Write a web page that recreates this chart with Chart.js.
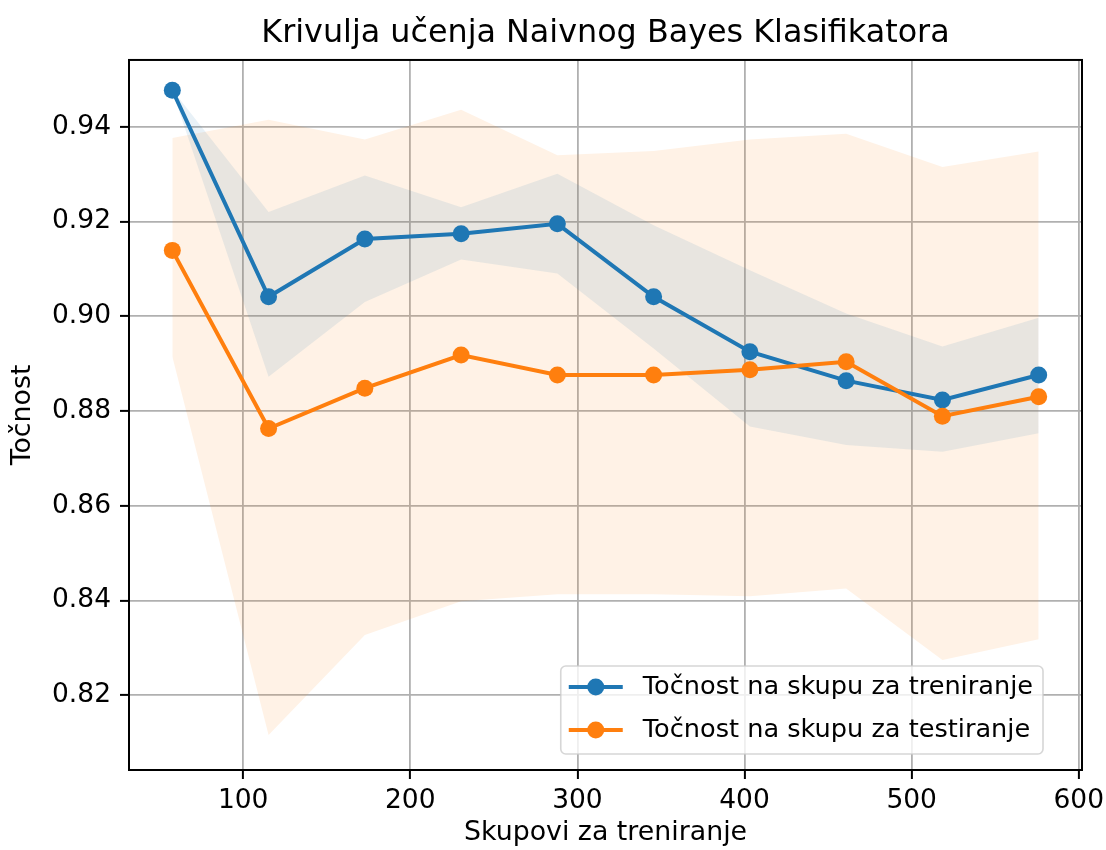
<!DOCTYPE html>
<html>
<head>
<meta charset="utf-8">
<script src="https://cdn.jsdelivr.net/npm/chart.js@4.4.1/dist/chart.umd.min.js"></script>
<style>
  body { margin: 0; background: #fff; }
  #wrap { width: 1106px; height: 850px; }
</style>
</head>
<body>
<div id="wrap"><canvas id="myChart" width="1106" height="850"></canvas></div>
<script>
// data
var trainSizes = [57.6, 115.2, 172.8, 230.4, 288, 345.6, 403.2, 460.8, 518.4, 576];
var trainMean = [0.9477, 0.9041, 0.9163, 0.9174, 0.9195, 0.9041, 0.8925, 0.8864, 0.8823, 0.8876];
var trainUpper = [0.9478, 0.9220, 0.9297, 0.9230, 0.9301, 0.9192, 0.9097, 0.9006, 0.8936, 0.8997];
var trainLower = [0.9476, 0.8872, 0.9030, 0.9120, 0.9090, 0.8932, 0.8767, 0.8728, 0.8714, 0.8753];
var testMean = [0.9139, 0.8763, 0.8848, 0.8918, 0.8876, 0.8876, 0.8887, 0.8904, 0.8789, 0.8830];
var testUpper = [0.9376, 0.9415, 0.9373, 0.9436, 0.9340, 0.9349, 0.9373, 0.9385, 0.9315, 0.9348];
var testLower = [0.8915, 0.8116, 0.8327, 0.8398, 0.8413, 0.8413, 0.8409, 0.8425, 0.8274, 0.8318];
var seriesNames = ['Točnost na skupu za treniranje', 'Točnost na skupu za testiranje'];
var xTicks = [100, 200, 300, 400, 500, 600];
var yTicks = [0.82, 0.84, 0.86, 0.88, 0.90, 0.92, 0.94];

var blue = '#1f77b4';
var orange = '#ff7f0e';
var font = "'DejaVu Sans', sans-serif";

function pts(ys) {
  return trainSizes.map(function (x, i) { return { x: x, y: ys[i] }; });
}

function band(ys, fill, color) {
  return {
    data: pts(ys),
    fill: fill,
    backgroundColor: color,
    borderWidth: 0,
    borderColor: 'rgba(0,0,0,0)',
    pointRadius: 0,
    pointHoverRadius: 0,
    order: 5
  };
}

function meanLine(label, ys, color, order) {
  return {
    label: label,
    data: pts(ys),
    borderColor: color,
    backgroundColor: color,
    borderWidth: 4,
    pointRadius: 8.5,
    pointHoverRadius: 8.5,
    pointBorderWidth: 0,
    pointBackgroundColor: color,
    fill: false,
    order: order
  };
}

// frame around the plot + legend in the lower right corner
var framePlugin = {
  id: 'frame',
  afterDraw: function (chart) {
    var c = chart.ctx, a = chart.chartArea;
    c.save();
    c.strokeStyle = '#000';
    c.lineWidth = 2;
    c.strokeRect(a.left, a.top, a.right - a.left, a.bottom - a.top);

    c.font = '25.6px ' + font;
    var textW = Math.max(c.measureText(seriesNames[0]).width, c.measureText(seriesNames[1]).width);
    var w = 8 + 54 + 20 + textW + 10;
    var h = 88;
    var x0 = a.right - 39 - w;
    var y0 = a.bottom - 16 - h;
    c.beginPath();
    c.roundRect(x0, y0, w, h, 5);
    c.fillStyle = 'rgba(255,255,255,0.8)';
    c.fill();
    c.strokeStyle = 'rgba(204,204,204,0.8)';
    c.lineWidth = 1.6;
    c.stroke();

    var colors = [blue, orange];
    for (var i = 0; i < 2; i++) {
      var ry = y0 + 21 + i * 43;
      c.strokeStyle = colors[i];
      c.lineWidth = 4;
      c.beginPath();
      c.moveTo(x0 + 8, ry);
      c.lineTo(x0 + 62, ry);
      c.stroke();
      c.fillStyle = colors[i];
      c.beginPath();
      c.arc(x0 + 35, ry, 8.5, 0, Math.PI * 2);
      c.fill();
      c.fillStyle = '#000';
      c.textBaseline = 'middle';
      c.textAlign = 'left';
      c.fillText(seriesNames[i], x0 + 82, ry);
    }
    c.restore();
  }
};

var ctx = document.getElementById('myChart').getContext('2d');
var chart = new Chart(ctx, {
  type: 'line',
  data: {
    datasets: [
      meanLine(seriesNames[1], testMean, orange, 0),
      meanLine(seriesNames[0], trainMean, blue, 1),
      band(trainUpper, '+1', 'rgba(31,119,180,0.1)'),
      band(trainLower, false, 'rgba(31,119,180,0.1)'),
      band(testUpper, '+1', 'rgba(255,127,14,0.1)'),
      band(testLower, false, 'rgba(255,127,14,0.1)')
    ]
  },
  options: {
    responsive: false,
    animation: false,
    layout: { padding: { left: 0, right: 24, top: 0, bottom: 0 } },
    plugins: {
      legend: { display: false },
      tooltip: { enabled: false },
      title: {
        display: true,
        fullSize: false,
        text: 'Krivulja učenja Naivnog Bayes Klasifikatora',
        color: '#000',
        font: { family: font, size: 31.8, weight: 'normal' },
        padding: { top: 15, bottom: 6.8 }
      }
    },
    scales: {
      x: {
        type: 'linear',
        min: 31.68,
        max: 601.92,
        border: { display: false },
        grid: { color: '#b0b0b0', lineWidth: 1.8, tickColor: '#000', tickLength: 9, tickWidth: 2 },
        ticks: {
          color: '#000',
          padding: 6,
          maxRotation: 0,
          font: { family: font, size: 26.5 },
          callback: function (v) { return String(v); }
        },
        title: {
          display: true,
          text: 'Skupovi za treniranje',
          color: '#000',
          font: { family: font, size: 26.8 },
          padding: { top: 0, bottom: 1 }
        },
        afterBuildTicks: function (s) { s.ticks = xTicks.map(function (v) { return { value: v }; }); },
        afterFit: function (s) { s.height = 80; s.paddingLeft = 0; s.paddingRight = 0; }
      },
      y: {
        type: 'linear',
        min: 0.8042,
        max: 0.9541,
        border: { display: false },
        grid: { color: '#b0b0b0', lineWidth: 1.8, tickColor: '#000', tickLength: 9, tickWidth: 2 },
        ticks: {
          color: '#000',
          padding: 9,
          font: { family: font, size: 26.5 },
          callback: function (v) { return v.toFixed(2); }
        },
        title: {
          display: true,
          text: 'Točnost',
          color: '#000',
          font: { family: font, size: 26.8 },
          padding: { top: 7, bottom: 0 }
        },
        afterBuildTicks: function (s) { s.ticks = yTicks.map(function (v) { return { value: v }; }); },
        afterFit: function (s) { s.width = 129; s.paddingTop = 0; s.paddingBottom = 0; }
      }
    }
  },
  plugins: [framePlugin]
});
</script>
</body>
</html>
